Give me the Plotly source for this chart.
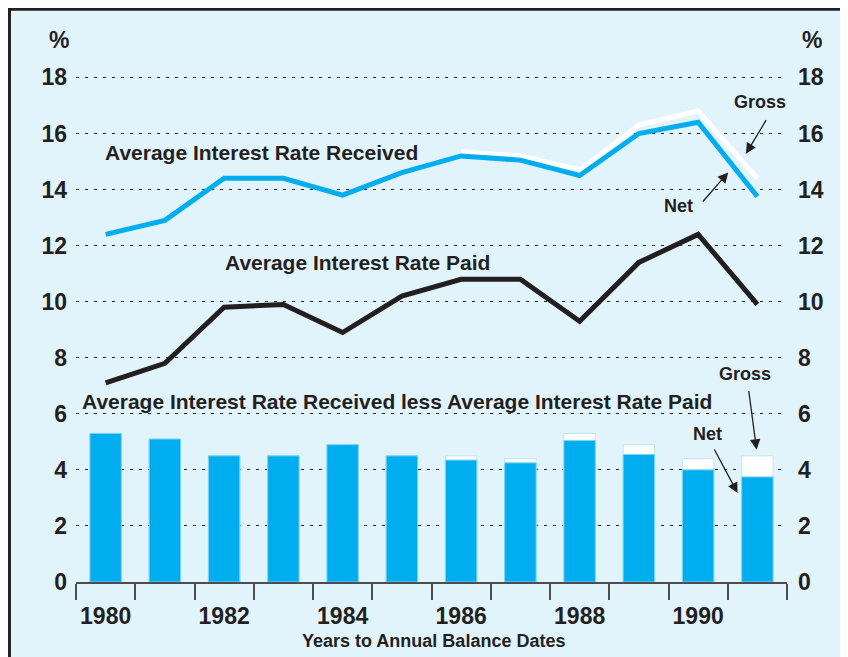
import plotly.graph_objects as go

# Data
years = list(range(1980, 1992))
received_net = [12.4, 12.9, 14.4, 14.4, 13.8, 14.6, 15.2, 15.05, 14.5, 16.0, 16.4, 13.75]
received_gross = [None, None, None, None, None, None, 15.35, 15.2, 14.7, 16.3, 16.8, 14.4]
paid = [7.1, 7.8, 9.8, 9.9, 8.9, 10.2, 10.8, 10.8, 9.3, 11.4, 12.4, 9.9]
margin_net = [5.3, 5.1, 4.5, 4.5, 4.9, 4.5, 4.35, 4.25, 5.05, 4.55, 4.0, 3.75]
margin_gross = [5.3, 5.1, 4.5, 4.5, 4.9, 4.5, 4.5, 4.4, 5.3, 4.9, 4.4, 4.5]
y_ticks = [0, 2, 4, 6, 8, 10, 12, 14, 16, 18]
label_years = [1980, 1982, 1984, 1986, 1988, 1990]

# colours
BG = '#E1F3FB'
BLUE = '#00AEEF'
INK = '#231F20'
FONT = 'Liberation Sans, Arial, sans-serif'

# the page body has an 8px margin, so the figure sits 8px in from the window
OFF = 8
W_FIG, H_FIG = 848 - OFF, 657 - OFF
# plot area in window pixels
L, R, T, B = 76, 786.7, 69.3, 582.3


def fx(px):
    return (px - L) / (R - L)


def fy(py):
    return (B - py) / (B - T)


fig = go.Figure()

# bars: gross (white) behind net (blue)
fig.add_trace(go.Bar(x=years, y=margin_gross, width=0.53, marker_color='white',
                     marker_line=dict(color='#BDE6F7', width=1), hoverinfo='skip'))
fig.add_trace(go.Bar(x=years, y=margin_net, width=0.53, marker_color=BLUE,
                     marker_line=dict(color='#7FD2F4', width=1), hoverinfo='skip'))

# lines
fig.add_trace(go.Scatter(x=years, y=received_gross, mode='lines',
                         line=dict(color='white', width=5), hoverinfo='skip'))
fig.add_trace(go.Scatter(x=years, y=received_net, mode='lines',
                         line=dict(color=BLUE, width=5), hoverinfo='skip'))
fig.add_trace(go.Scatter(x=years, y=paid, mode='lines',
                         line=dict(color=INK, width=5), hoverinfo='skip'))
# dummy trace so the right hand axis is drawn
fig.add_trace(go.Scatter(x=[None], y=[None], yaxis='y2', showlegend=False))

tick_font = dict(family=FONT, size=23, color=INK, weight='bold')

fig.update_layout(
    width=W_FIG, height=H_FIG, autosize=False,
    margin=dict(l=L - OFF, r=W_FIG - (R - OFF), t=T - OFF, b=H_FIG - (B - OFF), pad=0),
    paper_bgcolor=BG, plot_bgcolor='rgba(0,0,0,0)',
    barmode='overlay', showlegend=False,
    xaxis=dict(range=[1979.5, 1991.5], tickvals=label_years, ticktext=[str(y) for y in label_years],
               ticks='', tickfont=tick_font, ticklabelstandoff=13,
               showline=True, linecolor='#4D4D4D', linewidth=1.5, showgrid=False, zeroline=False,
               minor=dict(tickvals=[y - 0.5 for y in years] + [years[-1] + 0.5], ticks='outside',
                          ticklen=16, tickwidth=1.5, tickcolor='#4D4D4D', showgrid=False)),
    yaxis=dict(range=[0, 18.3], tickvals=y_ticks, tickfont=tick_font, ticks='',
               ticklabelstandoff=8, showgrid=True, gridcolor=INK, gridwidth=1,
               griddash='3px,6px', zeroline=False, showline=False),
    yaxis2=dict(range=[0, 18.3], tickvals=y_ticks, tickfont=tick_font, ticks='',
                overlaying='y', side='right', matches='y', ticklabelstandoff=10,
                showgrid=False, zeroline=False, showline=False),
)

# frame of the panel: only its top and left edges show on the page
frame = dict(color=INK, width=3)
fig.add_shape(type='line', xref='paper', yref='paper', layer='below',
              x0=fx(OFF), x1=fx(860), y0=fy(OFF + 1.5), y1=fy(OFF + 1.5), line=frame)
fig.add_shape(type='line', xref='paper', yref='paper', layer='below',
              x0=fx(OFF + 1.5), x1=fx(OFF + 1.5), y0=fy(OFF), y1=fy(680), line=frame)


def label(text, px, py, size=21):
    fig.add_annotation(text=text, x=fx(px), y=fy(py), xref='paper', yref='paper',
                       showarrow=False, xanchor='center', yanchor='middle',
                       font=dict(family=FONT, size=size, color=INK, weight='bold'))


def arrow(tail, head):
    fig.add_annotation(text='', x=fx(head[0]), y=fy(head[1]), xref='paper', yref='paper',
                       ax=tail[0] - head[0], ay=tail[1] - head[1], showarrow=True,
                       arrowhead=2, arrowsize=1.6, arrowwidth=1.3, arrowcolor=INK, standoff=0)


label('%', 58.7, 40, 23)
label('%', 811.7, 40, 23)
label('Average Interest Rate Received', 261, 153)
label('Average Interest Rate Paid', 357, 263)
label('Average Interest Rate Received less Average Interest Rate Paid', 397, 401.7)
label('Gross', 759.3, 102.7, 18)
label('Net', 678.7, 206.7, 18)
label('Gross', 745, 374.3, 18)
label('Net', 707.5, 434.3, 18)
label('Years to Annual Balance Dates', 433.3, 641.7, 18)

arrow((766.7, 119), (745.7, 154))
arrow((701.3, 203.3), (728, 172.7))
arrow((748.3, 390), (756.3, 450))
arrow((713.3, 448.3), (737.3, 493.3))

fig.write_html('out.html')
